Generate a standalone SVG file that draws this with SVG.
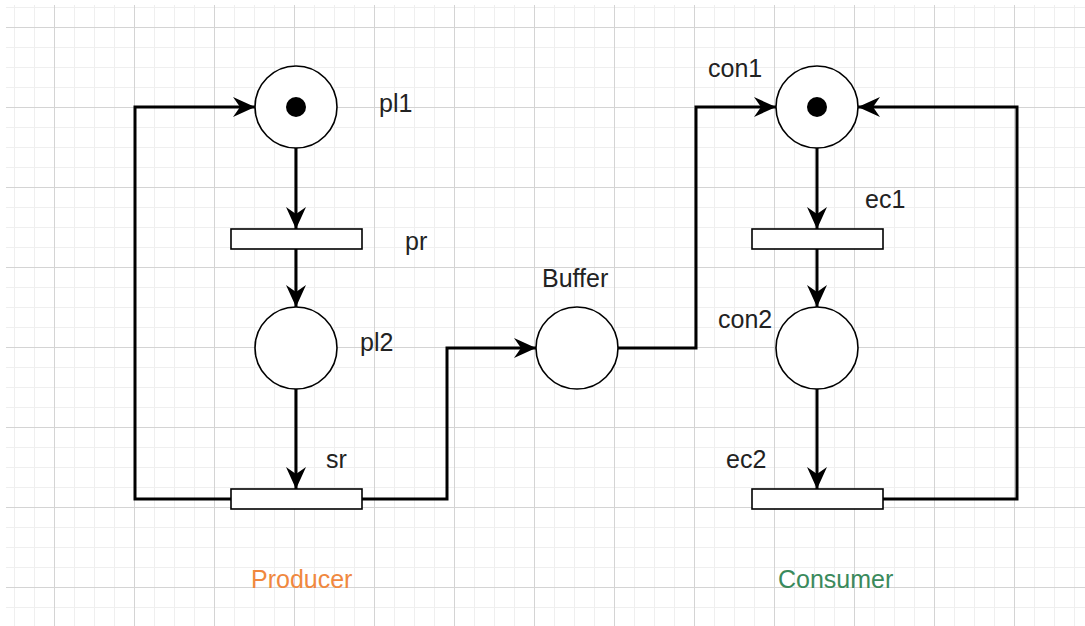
<svg xmlns="http://www.w3.org/2000/svg" width="1085" height="626" viewBox="0 0 1085 626">
<style>
.place{fill:#fff;stroke:#000;stroke-width:1.6}
.token{fill:#000}
.trans{fill:#fff;stroke:#000;stroke-width:1.6}
.arc{fill:none;stroke:#000;stroke-width:3;marker-end:url(#ah)}
.lbl{font-family:"Liberation Sans",Arial,sans-serif;font-size:25px;fill:#222}
</style>
<defs>
<pattern id="grid" patternUnits="userSpaceOnUse" x="54" y="27" width="80" height="80">
<rect x="20" y="0" width="1" height="80" fill="#efefef"/>
<rect x="40" y="0" width="1" height="80" fill="#efefef"/>
<rect x="60" y="0" width="1" height="80" fill="#efefef"/>
<rect x="0" y="20" width="80" height="1" fill="#efefef"/>
<rect x="0" y="40" width="80" height="1" fill="#efefef"/>
<rect x="0" y="60" width="80" height="1" fill="#efefef"/>
<rect x="0" y="0" width="1" height="80" fill="#d4d4d4"/>
<rect x="0" y="0" width="80" height="1" fill="#d4d4d4"/>
</pattern>
<marker id="ah" markerUnits="userSpaceOnUse" markerWidth="24" markerHeight="22" viewBox="-23 -11 24 22" refX="0" refY="0" orient="auto">
<path d="M0,0 L-22,-10 L-15,0 L-22,10 Z" fill="#000"/>
</marker>
</defs>
<rect x="0" y="0" width="1085" height="626" fill="#fff"/>
<rect x="6" y="5" width="1079" height="621" fill="url(#grid)"/>

<g id="connectors">
<path class="arc" d="M296,148 L296,229"/>
<path class="arc" d="M296,249 L296,307"/>
<path class="arc" d="M296,389 L296,489"/>
<path class="arc" d="M231,499 L135,499 L135,107 L255,107"/>
<path class="arc" d="M362,499 L447,499 L447,348 L536,348"/>
<path class="arc" d="M618,348 L696,348 L696,107 L776,107"/>
<path class="arc" d="M817,148 L817,229"/>
<path class="arc" d="M817,249 L817,307"/>
<path class="arc" d="M817,389 L817,489"/>
<path class="arc" d="M883,499 L1017,499 L1017,107 L858,107"/>
</g>

<g id="pl1">
<circle class="place" cx="296" cy="107" r="41"/>
<circle class="token" cx="296" cy="107" r="10"/>
<text class="lbl" x="379" y="112">pl1</text>
</g>
<g id="pr">
<rect class="trans" x="231" y="229" width="131" height="20"/>
<text class="lbl" x="405" y="250">pr</text>
</g>
<g id="pl2">
<circle class="place" cx="296" cy="348" r="41"/>
<text class="lbl" x="360" y="351">pl2</text>
</g>
<g id="sr">
<rect class="trans" x="231" y="489" width="131" height="20"/>
<text class="lbl" x="326" y="468">sr</text>
</g>
<g id="buffer">
<circle class="place" cx="577" cy="348" r="41"/>
<text class="lbl" x="542" y="287">Buffer</text>
</g>
<g id="con1">
<circle class="place" cx="817" cy="107" r="41"/>
<circle class="token" cx="817" cy="107" r="10"/>
<text class="lbl" x="708" y="77">con1</text>
</g>
<g id="ec1">
<rect class="trans" x="752" y="229" width="131" height="20"/>
<text class="lbl" x="865" y="208">ec1</text>
</g>
<g id="con2">
<circle class="place" cx="817" cy="348" r="41"/>
<text class="lbl" x="718" y="328">con2</text>
</g>
<g id="ec2">
<rect class="trans" x="752" y="489" width="131" height="20"/>
<text class="lbl" x="726" y="468">ec2</text>
</g>
<g id="producer">
<text class="lbl" x="251" y="588" style="fill:#f0883e">Producer</text>
</g>
<g id="consumer">
<text class="lbl" x="778" y="588" style="fill:#3a8a5c">Consumer</text>
</g>
</svg>
